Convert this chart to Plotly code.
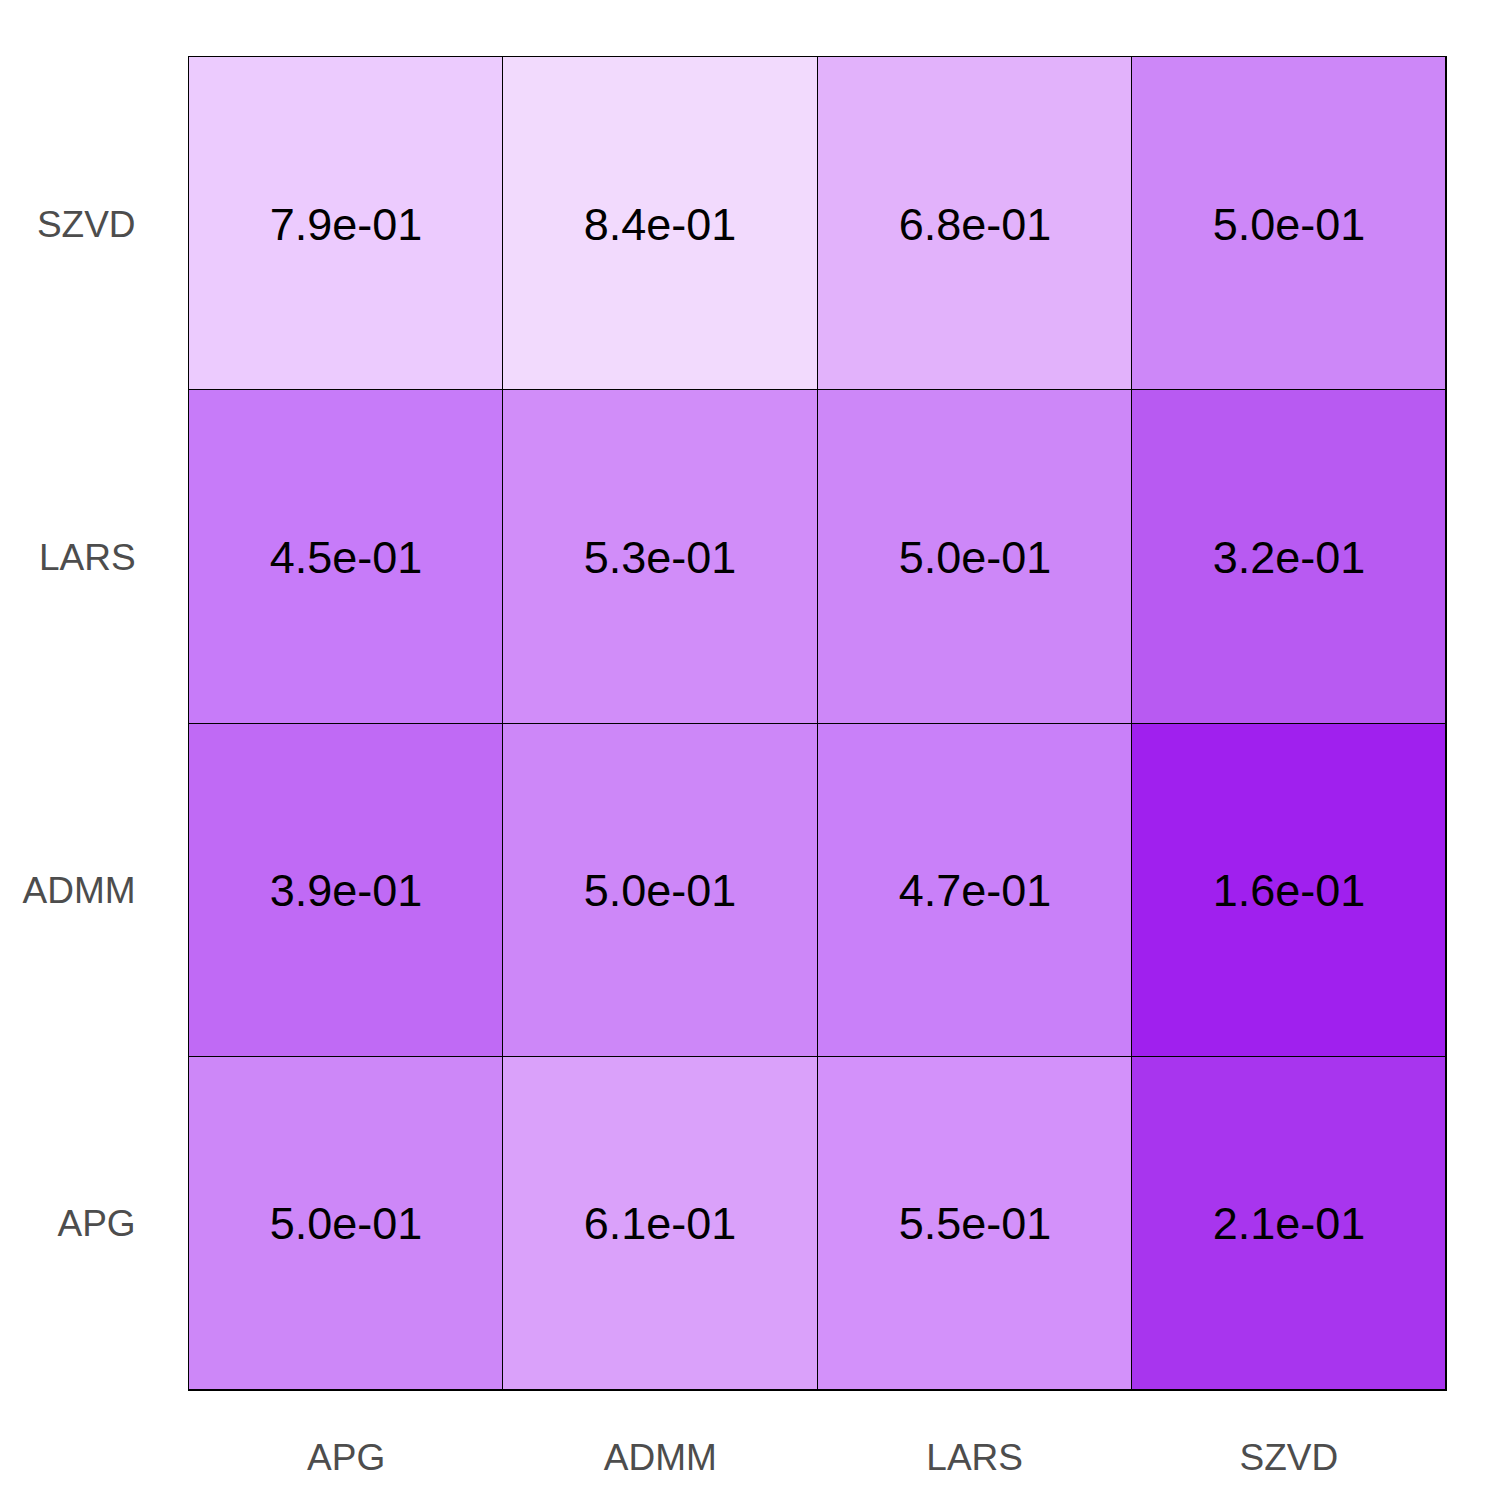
import plotly.graph_objects as go

methods_x = ["APG", "ADMM", "LARS", "SZVD"]
methods_y = ["APG", "ADMM", "LARS", "SZVD"]

# rows listed bottom to top (APG, ADMM, LARS, SZVD), columns APG, ADMM, LARS, SZVD
row_apg = [0.50, 0.61, 0.55, 0.21]
row_admm = [0.39, 0.50, 0.47, 0.16]
row_lars = [0.45, 0.53, 0.50, 0.32]
row_szvd = [0.79, 0.84, 0.68, 0.50]

z = [row_apg, row_admm, row_lars, row_szvd]
text = [[f"{v:.1e}" for v in row] for row in z]

# colour samples (value -> colour)
stop_vals = [0.16, 0.21, 0.32, 0.39, 0.45, 0.50, 0.55, 0.61, 0.68, 0.79, 0.84]
stop_cols = ["#A020EE", "#A835EE", "#B85AF2", "#C06AF5", "#C77BF9", "#CD87F8",
             "#D391FA", "#DAA1FA", "#E2B2FB", "#ECCBFE", "#F2DAFD"]
zmin, zmax = stop_vals[0], stop_vals[-1]
colorscale = [[(v - zmin) / (zmax - zmin), c] for v, c in zip(stop_vals, stop_cols)]

fig = go.Figure(go.Heatmap(
    x=methods_x, y=methods_y, z=z,
    text=text, texttemplate="%{text}",
    textfont=dict(family="Liberation Sans, Arial", size=45, color="black"),
    colorscale=colorscale, zmin=zmin, zmax=zmax,
    showscale=False, xgap=1, ygap=1,
))

fig.update_layout(
    width=1500, height=1500,
    margin=dict(l=181, r=62, t=49, b=118),
    paper_bgcolor="white", plot_bgcolor="black",
    font=dict(family="Liberation Sans, Arial"),
)
axis_common = dict(
    showgrid=False, zeroline=False, ticks="", automargin=False,
    showline=True, mirror=True, linecolor="black", linewidth=1,
    tickfont=dict(family="Liberation Sans, Arial", size=37, color="#4D4D4D"),
)
fig.update_xaxes(**axis_common, ticklabelstandoff=35)
fig.update_yaxes(**axis_common, ticklabelstandoff=45)

fig.write_html("out.html")
